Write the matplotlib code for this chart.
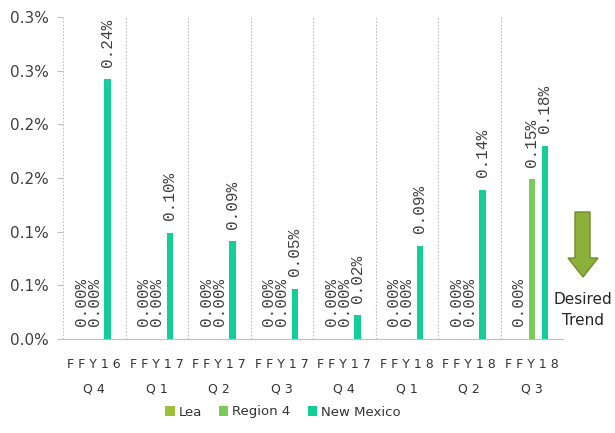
import numpy as np
import matplotlib
matplotlib.use("Agg")
import matplotlib.pyplot as plt
from matplotlib.patches import Polygon

# quarters and values (percent)
quarters = ["F F Y 1 6\nQ 4", "F F Y 1 7\nQ 1", "F F Y 1 7\nQ 2", "F F Y 1 7\nQ 3",
            "F F Y 1 7\nQ 4", "F F Y 1 8\nQ 1", "F F Y 1 8\nQ 2", "F F Y 1 8\nQ 3"]
lea = [0.0, 0.0, 0.0, 0.0, 0.0, 0.0, 0.0, 0.0]
region4 = [0.0, 0.0, 0.0, 0.0, 0.0, 0.0, 0.0, 0.149]
new_mexico = [0.242, 0.099, 0.091, 0.047, 0.022, 0.087, 0.139, 0.180]
ytick_vals = [0.0, 0.05, 0.10, 0.15, 0.20, 0.25, 0.30]
ytick_labels = ["0.0%", "0.1%", "0.1%", "0.2%", "0.2%", "0.3%", "0.3%"]

series = [("Lea", lea, "#9DBF3A"),
          ("Region 4", region4, "#7CC95C"),
          ("New Mexico", new_mexico, "#14CD98")]

fig = plt.figure(figsize=(6.15, 4.33), dpi=100)
ax = fig.add_axes([63/615, 94/433, 500/615, 322/433])

x = np.arange(len(quarters))
width = 0.1
offsets = [-0.21, 0.0, 0.21]
handles = []
for (name, vals, col), off in zip(series, offsets):
    bars = ax.bar(x + off, vals, width, color=col, label=name, zorder=3)
    handles.append(bars)
    for xi, v in zip(x + off, vals):
        ax.annotate("{:.2f}%".format(v), (xi, v), xytext=(0, 9),
                    textcoords="offset points", rotation=90,
                    ha="center", va="bottom", fontsize=11.5,
                    family="Liberation Mono", color="#404040")

ax.set_xlim(-0.5, len(quarters) - 0.5)
ax.set_ylim(0, 0.30)
ax.vlines(np.arange(-0.5, len(quarters)), 0, 0.30, colors="#BFBFBF",
          linestyles=(0, (1.5, 1.5)), linewidth=0.8, zorder=1)

ax.set_yticks(ytick_vals)
ax.set_yticklabels(ytick_labels, fontsize=11, color="#404040")
ax.set_xticks(x)
ax.set_xticklabels(quarters, fontsize=9, color="#333333", linespacing=2.15)
ax.tick_params(axis="x", length=0, pad=14)
ax.tick_params(axis="y", length=4, color="#BFBFBF", pad=6)

for s in ["top", "right", "left"]:
    ax.spines[s].set_visible(False)
ax.spines["bottom"].set_color("#BFBFBF")

fig.legend(handles=handles, loc="center", bbox_to_anchor=(283/615, 1 - 412/433),
           ncol=3, frameon=False, fontsize=9.5, handlelength=0.7,
           handleheight=0.7, handletextpad=0.3, columnspacing=1.3,
           labelcolor="#333333")

# desired trend arrow (figure pixel coords)
W, H = 615, 433
pts = [(575, 212), (590, 212), (590, 258), (598, 258), (583, 277),
       (568, 258), (575, 258)]
arrow = Polygon([(px / W, 1 - py / H) for px, py in pts], closed=True,
                transform=fig.transFigure, facecolor="#8DB03A",
                edgecolor="#6E8B2A", linewidth=1)
fig.patches.append(arrow)
fig.text(583/W, 1 - 310/H, "Desired\nTrend", ha="center", va="center",
         fontsize=11, color="#262626", linespacing=1.5)

fig.savefig("out.png", dpi=100)
